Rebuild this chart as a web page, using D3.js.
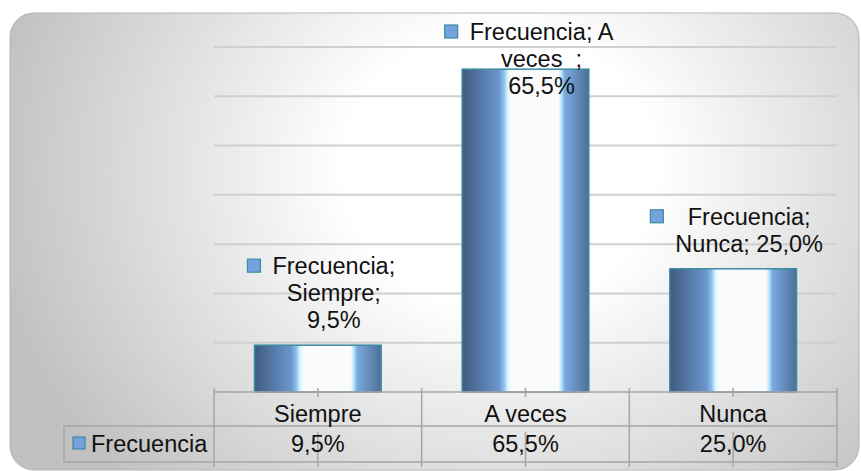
<!DOCTYPE html>
<html>
<head>
<meta charset="utf-8">
<script src="https://cdn.jsdelivr.net/npm/d3@7"></script>
<style>
  html, body { margin: 0; padding: 0; background: #fff; }
  svg { display: block; font-family: "Liberation Sans", Arial, sans-serif; }
</style>
</head>
<body>
<svg id="chart" width="861" height="471"></svg>
<script>
// data
let seriesName = 'Frecuencia'
let categories = ['Siempre', 'A veces', 'Nunca']
let values = [9.5, 65.5, 25.0]
let valueLabels = ['9,5%', '65,5%', '25,0%']
let dataLabels = [
  ['Frecuencia;', 'Siempre;', '9,5%'],
  ['Frecuencia; A', 'veces  ;', '65,5%'],
  ['Frecuencia;', 'Nunca; 25,0%']
]
let gridTicks = [10, 20, 30, 40, 50, 60, 70]

let plotLeft = 214
let plotRight = 837
let plotTop = 47
let plotBottom = 392
let fontSize = 23.5

let svg = d3.select('#chart')
let defs = svg.append('defs')

// background gradient
let bg = defs.append('radialGradient')
  .attr('id', 'bg')
  .attr('gradientUnits', 'userSpaceOnUse')
  .attr('cx', 0).attr('cy', 0).attr('r', 1)
  .attr('gradientTransform', 'translate(500,170) scale(520,460)')
bg.append('stop').attr('offset', 0).attr('stop-color', '#ffffff')
bg.append('stop').attr('offset', 0.3).attr('stop-color', '#ffffff')
bg.append('stop').attr('offset', 1).attr('stop-color', '#c0c0c0')

// bar gradient
let barGrad = defs.append('linearGradient')
  .attr('id', 'bar')
  .attr('x1', 0).attr('x2', 1).attr('y1', 0).attr('y2', 0)
let barStops = [
  [0, '#3f5a80'], [0.29, '#6a96cc'], [0.33, '#8ec0f0'], [0.36, '#d8f8ff'],
  [0.39, '#fbfbfb'], [0.76, '#fbfbfb'], [0.785, '#b4e2ff'], [0.81, '#7aaae0'],
  [1, '#4e6e98']
]
barStops.forEach(s => {
  barGrad.append('stop').attr('offset', s[0]).attr('stop-color', s[1])
})

svg.append('rect')
  .attr('x', 10).attr('y', 13)
  .attr('width', 849).attr('height', 457)
  .attr('rx', 24).attr('ry', 24)
  .attr('fill', 'url(#bg)')
  .attr('stroke', '#b4b4b4')
  .attr('stroke-width', 1)

// scales
let xScale = d3.scaleBand()
  .domain(categories)
  .range([plotLeft, plotRight])
  .padding(0)

let yScale = d3.scaleLinear()
  .domain([0, 70])
  .range([plotBottom, plotTop])

let barWidth = xScale.bandwidth() * 0.61

// gridlines
svg.append('g')
  .selectAll('line')
  .data(gridTicks)
  .enter()
  .append('line')
  .attr('x1', plotLeft).attr('x2', plotRight)
  .attr('y1', d => yScale(d)).attr('y2', d => yScale(d))
  .attr('stroke', '#cfcfcf')
  .attr('stroke-width', 2)

// bars
svg.append('g')
  .selectAll('rect')
  .data(values)
  .enter()
  .append('rect')
  .attr('x', (d, i) => xScale(categories[i]) + (xScale.bandwidth() - barWidth) / 2)
  .attr('y', d => yScale(d))
  .attr('width', barWidth)
  .attr('height', d => yScale(0) - yScale(d))
  .attr('fill', 'url(#bar)')
  .attr('stroke', '#3a8ca0')
  .attr('stroke-width', 1.5)

// data table
let rowTop = plotBottom
let rowMid = 426
let rowBottom = 462
let tableLeft = 64
let grid = svg.append('g').attr('stroke', '#a6a6a6').attr('stroke-width', 1.5)

grid.append('line').attr('x1', plotLeft).attr('x2', plotRight).attr('y1', rowTop).attr('y2', rowTop)
grid.append('line').attr('x1', tableLeft).attr('x2', plotRight).attr('y1', rowMid).attr('y2', rowMid)
grid.append('line').attr('x1', tableLeft).attr('x2', plotRight).attr('y1', rowBottom).attr('y2', rowBottom)
grid.append('line').attr('x1', tableLeft).attr('x2', tableLeft).attr('y1', rowMid).attr('y2', rowBottom)

let edges = categories.map(c => xScale(c)).concat([plotRight])
grid.selectAll('.vline')
  .data(edges)
  .enter()
  .append('line')
  .attr('class', 'vline')
  .attr('x1', d => d).attr('x2', d => d)
  .attr('y1', rowTop - 4).attr('y2', rowBottom + 5)

// tick marks at category centres
let centres = categories.map(c => xScale(c) + xScale.bandwidth() / 2)
grid.selectAll('.tick1')
  .data(centres)
  .enter()
  .append('line')
  .attr('x1', d => d).attr('x2', d => d)
  .attr('y1', rowTop - 4).attr('y2', rowTop + 5)
grid.selectAll('.tick2')
  .data(centres)
  .enter()
  .append('line')
  .attr('x1', d => d).attr('x2', d => d)
  .attr('y1', rowMid + 6).attr('y2', rowBottom + 5)

// category labels
svg.append('g')
  .selectAll('text')
  .data(categories)
  .enter()
  .append('text')
  .attr('x', d => xScale(d) + xScale.bandwidth() / 2)
  .attr('y', 422)
  .attr('text-anchor', 'middle')
  .attr('font-size', fontSize)
  .attr('fill', '#111')
  .text(d => d)

// values row
svg.append('g')
  .selectAll('text')
  .data(valueLabels)
  .enter()
  .append('text')
  .attr('x', (d, i) => centres[i])
  .attr('y', 452)
  .attr('text-anchor', 'middle')
  .attr('font-size', fontSize)
  .attr('fill', '#111')
  .text(d => d)

// legend key in the table
svg.append('rect')
  .attr('x', 73).attr('y', 437)
  .attr('width', 12).attr('height', 12)
  .attr('fill', '#74a2dc')
  .attr('stroke', '#3a8ca0')
  .attr('stroke-width', 1.2)
svg.append('text')
  .attr('x', 91).attr('y', 452)
  .attr('font-size', fontSize)
  .attr('fill', '#111')
  .text(seriesName)

// data labels above the bars
let lineGap = 27
dataLabels.forEach((lines, i) => {
  let cx = centres[i] + 16
  let barTop = yScale(values[i])
  let firstBase = Math.max(40, barTop - 17 - (lines.length - 1) * lineGap)
  let g = svg.append('g')
  let maxW = 0
  lines.forEach((t, j) => {
    let txt = g.append('text')
      .attr('x', cx)
      .attr('y', firstBase + j * lineGap)
      .attr('text-anchor', 'middle')
      .attr('font-size', fontSize)
      .attr('fill', '#111')
      .style('white-space', 'pre')
      .text(t)
    maxW = Math.max(maxW, txt.node().getComputedTextLength())
  })
  g.insert('rect', 'text')
    .attr('x', cx - maxW / 2 - 25)
    .attr('y', firstBase - 15)
    .attr('width', 13).attr('height', 13)
    .attr('fill', '#74a2dc')
    .attr('stroke', '#3a8ca0')
    .attr('stroke-width', 1.2)
})
</script>
</body>
</html>
